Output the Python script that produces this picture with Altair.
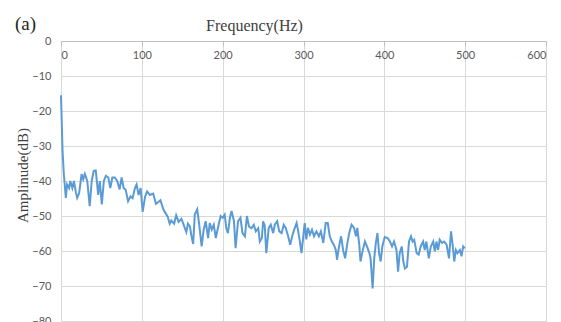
import altair as alt
import pandas as pd

freq_hz = [
    0, 1.9, 3.5, 6, 7.5, 10, 11.5, 14, 16, 18.5,
    20, 22.5, 25.5, 27.5, 29.5, 32.5, 35.5, 38, 40.5, 43,
    46, 48, 50.5, 53, 55.5, 58.5, 61, 63.5, 66.5, 69.5,
    72.5, 75, 77.5, 80, 83, 86, 88.5, 91.5, 93.5, 96,
    98.5, 101, 104, 106.5, 110, 114, 117.5, 120.5, 123, 126.5,
    128.5, 132, 134.5, 136.5, 140, 142.5, 145.5, 149, 152, 155,
    157, 159.5, 161.5, 163.5, 165.5, 168.5, 171, 174, 176.5, 179,
    182, 184, 186.5, 189, 191.5, 194.5, 197.5, 200, 202.5, 204.5,
    206.5, 209, 211, 214, 216, 219, 222, 224.5, 227.5, 230,
    232.5, 235.5, 238.5, 241, 244, 246, 248.5, 250, 252, 254,
    257, 259.5, 262.5, 264.5, 267.5, 270, 273, 275.5, 278, 281,
    283.5, 286, 288.5, 291.5, 293.5, 295.5, 297.5, 299.5, 301.5, 303.5,
    305.5, 308, 310.5, 313, 316, 319, 321.5, 324.5, 327.5, 330,
    332.5, 335, 337.5, 340, 341.5, 344, 346.5, 349, 351.5, 354,
    356.5, 359.5, 362.5, 365, 366.5, 369, 370.5, 373, 376, 378.5,
    381.5, 383, 385.5, 387.5, 389.5, 391.5, 393.5, 395.5, 397.5, 400.5,
    404, 407, 409.5, 412, 415, 417, 419, 421.5, 423.5, 425.5,
    428, 430.5, 433, 435, 437, 440, 442.5, 445, 448, 450,
    452, 455, 457.5, 460.5, 462.5, 464.5, 466.5, 468.5, 471.5, 474,
    477, 480, 482.5, 484.5, 486.5, 488.5, 490.5, 493.5, 495.5, 497.5,
    499.5,
]

amplitude_db = [
    -15.5, -31.3, -38, -44.8, -41, -42, -40, -42, -40, -43.4,
    -44.8, -43.4, -38, -39.5, -38, -40, -47.2, -40, -37.1, -37,
    -44, -40, -46.7, -40, -38.5, -39, -42, -39, -39, -40,
    -42.4, -39, -42, -42.5, -45.8, -44.4, -44.9, -42, -41, -44,
    -42, -48.8, -44.5, -43, -44, -43.6, -46.5, -46, -45.5, -48,
    -48.9, -50.2, -52.2, -51.3, -52.2, -49.8, -51.7, -50.8, -52.7, -54.6,
    -52.2, -53, -55.8, -58, -49.6, -48.1, -52.5, -58.7, -53.9, -51.5,
    -56.3, -52, -53.9, -52.5, -56.3, -53, -50, -50.5, -49.6, -53.5,
    -54.9, -50.5, -48.6, -51.5, -59.2, -51.5, -50.5, -54.9, -55.8, -50,
    -53, -53.5, -52.5, -54.4, -53.5, -57.3, -56.3, -51.5, -52.7, -60.6,
    -53.4, -52.5, -54.9, -52.5, -51.5, -54.4, -54.9, -52.5, -53.4, -55.8,
    -58.2, -55.8, -53.9, -52, -54.4, -57.3, -60.6, -56.3, -52, -56.7,
    -53.4, -55.3, -53.9, -55.8, -54.4, -55.8, -54.4, -57.7, -52, -52,
    -55.8, -57.3, -58.2, -59.7, -62.5, -58.7, -55.8, -59.7, -62.1, -58.2,
    -54.9, -52.5, -53.4, -55.8, -53.4, -58.2, -63, -60.1, -57.3, -58.7,
    -60.6, -62.1, -70.7, -62.1, -57.7, -54.9, -60.6, -63, -58.7, -56,
    -56.3, -57.3, -58.7, -57.3, -59.7, -65.9, -60.6, -58.7, -63, -65,
    -64.5, -57.3, -55.8, -57.3, -56.8, -60.6, -61, -58.7, -57.3, -59.7,
    -57.3, -62.1, -58.7, -57.3, -60.1, -57.3, -59.7, -56.8, -57.7, -57.3,
    -58.2, -62.1, -54.4, -58.2, -63, -59.7, -60.6, -59.7, -61.5, -58.7,
    -59.2,
]

x_ticks = [0, 100, 200, 300, 400, 500, 600]
y_ticks = [0, -10, -20, -30, -40, -50, -60, -70, -80]

df = pd.DataFrame({"freq": freq_hz, "amp": amplitude_db})

SERIF = "Liberation Serif"
SANS = "Lato"
PLOT_W, PLOT_H = 485, 280

chart = (
    alt.Chart(df)
    .mark_line(color="#5B9BD5", strokeWidth=2)
    .encode(
        x=alt.X(
            "freq:Q",
            scale=alt.Scale(domain=[0, 600], nice=False, zero=False),
            axis=alt.Axis(
                orient="bottom",
                offset=-PLOT_H,
                values=x_ticks,
                grid=True,
                gridColor="#d9d9d9",
                domainColor="#bfbfbf",
                tickColor="#bfbfbf",
                tickSize=5,
                labelPadding=3,
                labelFont=SANS,
                labelFontSize=11,
                labelColor="#595959",
                title="Frequency(Hz)",
                titleFont=SERIF,
                titleFontSize=16,
                titleFontWeight="normal",
                titleColor="#404040",
                titleX=193,
                titleY=-11,
                titleBaseline="alphabetic",
                titleAlign="center",
            ),
        ),
        y=alt.Y(
            "amp:Q",
            scale=alt.Scale(domain=[-80, 0], nice=False, zero=False),
            axis=alt.Axis(
                values=y_ticks,
                grid=True,
                gridColor="#d9d9d9",
                domain=False,
                ticks=False,
                labelPadding=10,
                labelFont=SANS,
                labelFontSize=11,
                labelColor="#595959",
                title="Amplinude(dB)",
                titleFont=SERIF,
                titleFontSize=15,
                titleFontWeight="normal",
                titleColor="#404040",
                titleX=-34,
                titleY=134,
                titleAngle=-90,
                titleBaseline="alphabetic",
                titleAlign="center",
            ),
        ),
    )
    .properties(
        width=PLOT_W,
        height=PLOT_H,
        autosize=alt.AutoSizeParams(type="none"),
        padding={"left": 61, "top": 41, "right": 15, "bottom": 1},
        title=alt.TitleParams(
            "(a)",
            anchor="start",
            frame="group",
            orient="top",
            font=SERIF,
            fontSize=19,
            fontWeight="normal",
            color="#262626",
            dx=-46,
            dy=21,
        ),
    )
    .configure_view(stroke=None)
)

chart.save("out.html", embed_options={"renderer": "svg", "actions": False})
